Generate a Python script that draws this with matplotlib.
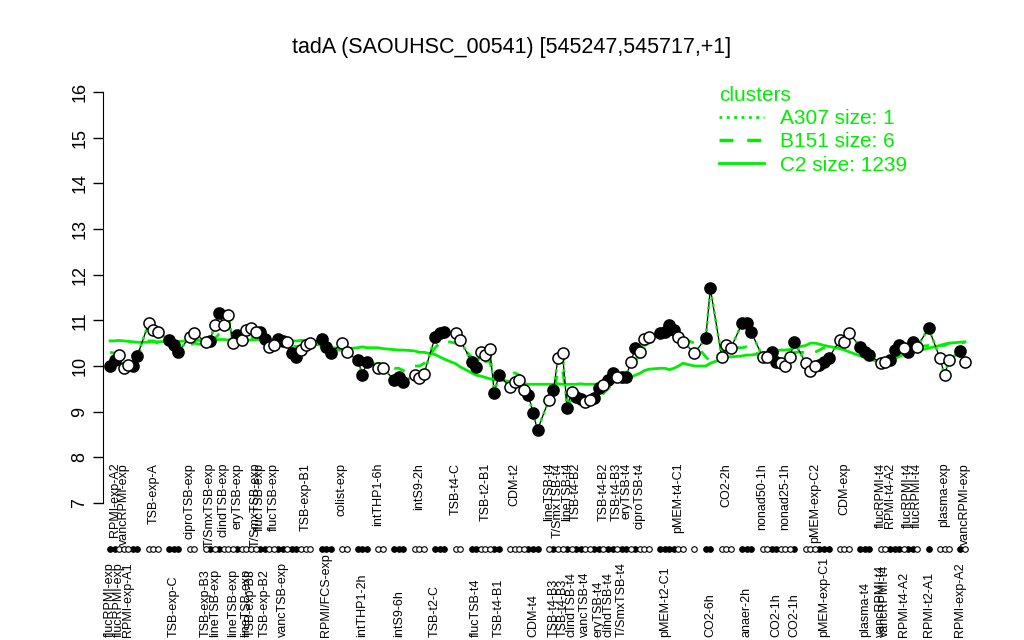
import matplotlib
matplotlib.use("Agg")
import matplotlib.pyplot as plt
from matplotlib.lines import Line2D
import numpy as np

plt.rcParams['font.family'] = ['Liberation Sans', 'DejaVu Sans']

title = "tadA (SAOUHSC_00541) [545247,545717,+1]"

# number of samples in each condition block (left to right)
group_sizes = [7, 3, 3, 2, 24, 3, 2, 3, 2, 3, 3, 3, 2, 7, 7, 23, 6, 1, 2, 3, 3, 8, 6, 3, 3, 9, 1, 3, 2]

# expression values, one per sample
values = [
    10.00, 10.13, 10.24, 9.96, 10.02, 10.00, 10.22,
    10.94, 10.79, 10.74,
    10.57, 10.46, 10.31,
    10.63, 10.72,
    10.53, 10.55, 10.90, 11.16, 10.90, 11.12, 10.50, 10.68, 10.57, 10.79, 10.83, 10.74,
    10.75, 10.60, 10.42, 10.46, 10.60, 10.55, 10.53, 10.28, 10.20, 10.35, 10.46, 10.50,
    10.60, 10.42, 10.28,
    10.50, 10.31,
    10.13, 9.80, 10.09,
    9.96, 9.96,
    9.69, 9.76, 9.65,
    9.80, 9.74, 9.82,
    10.64, 10.72, 10.74,
    10.72, 10.57,
    10.09, 9.98, 10.31, 10.24, 10.37, 9.41, 9.80,
    9.54, 9.65, 9.69, 9.47, 9.37, 8.97, 8.60,
    9.26, 9.47, 10.17, 10.28, 9.08, 9.43, 9.33, 9.28, 9.22, 9.26, 9.30, 9.52,
    9.58, 9.69, 9.84, 9.76, 9.76, 9.76, 10.09, 10.39, 10.31, 10.60, 10.64,
    10.72, 10.74, 10.90, 10.78, 10.64, 10.53,
    10.28,
    10.61, 11.70,
    10.20, 10.46, 10.39,
    10.94, 10.94, 10.74,
    10.20, 10.20, 10.31, 10.09, 10.06, 10.00, 10.20, 10.53,
    10.06, 9.90, 10.00, 10.02, 10.09, 10.17,
    10.57, 10.53, 10.72,
    10.42, 10.31, 10.24,
    10.06, 10.09, 10.13, 10.35, 10.46, 10.40, 10.31, 10.53, 10.42,
    10.83,
    10.17, 9.80, 10.13,
    10.33, 10.09,
]

# 1 = filled point, 0 = open point
filled = [
    1, 1, 0, 0, 0, 1, 1,
    0, 0, 0,
    1, 1, 1,
    0, 0,
    0, 1, 0, 1, 0, 0, 0, 1, 0, 0, 0, 0, 1, 1, 0, 0, 1, 1, 0, 1, 1, 0, 0, 0,
    1, 1, 1,
    0, 0,
    1, 1, 1,
    0, 0,
    1, 1, 1,
    0, 0, 0,
    1, 1, 1,
    0, 0,
    1, 1, 0, 0, 0, 1, 1,
    0, 0, 0, 0, 1, 1, 1,
    0, 1, 0, 0, 1, 0, 1, 1, 0, 0, 1, 1, 0, 1, 1, 0, 1, 1, 0, 1, 0, 0, 0,
    1, 1, 1, 1, 0, 0,
    0,
    1, 1,
    0, 0, 0,
    1, 1, 1,
    0, 0, 1, 1, 0, 0, 0, 1,
    0, 0, 0, 1, 1, 1,
    0, 0, 0,
    1, 1, 1,
    0, 0, 1, 1, 1, 0, 1, 1, 0,
    1,
    0, 0, 0,
    1, 0,
]

# cluster C2 mean profile (solid)
c2_mean = [
    10.55, 10.55, 10.56, 10.55, 10.54, 10.53, 10.52,
    10.52, 10.53, 10.53,
    10.54, 10.55, 10.54,
    10.55, 10.56,
    10.56, 10.57, 10.57, 10.58, 10.58, 10.57, 10.58, 10.57, 10.57, 10.56, 10.57, 10.58,
    10.58, 10.57, 10.56, 10.56, 10.57, 10.57, 10.56, 10.55, 10.55, 10.56, 10.56, 10.55,
    10.50, 10.45, 10.40,
    10.39, 10.38,
    10.40, 10.42, 10.40,
    10.40, 10.38,
    10.36, 10.35, 10.35,
    10.33, 10.30, 10.30,
    10.25, 10.20, 10.15,
    10.05, 9.98,
    9.85, 9.80, 9.78, 9.75, 9.72, 9.70, 9.70,
    9.66, 9.63, 9.62, 9.61, 9.60, 9.60, 9.60,
    9.60, 9.60, 9.61, 9.60, 9.60, 9.60, 9.60, 9.61, 9.60, 9.60, 9.60, 9.61,
    9.62, 9.63, 9.64, 9.66, 9.68, 9.70, 9.75, 9.80, 9.84, 9.90, 9.93,
    9.95, 9.95, 9.92, 9.95, 10.00, 10.06,
    10.00,
    10.00, 10.06,
    10.15, 10.20, 10.20,
    10.22, 10.24, 10.24,
    10.28, 10.30, 10.31, 10.33, 10.35, 10.35, 10.36, 10.40,
    10.45, 10.50, 10.50, 10.48, 10.45, 10.43,
    10.38, 10.35, 10.31,
    10.22, 10.20, 10.15,
    10.08, 10.10, 10.14, 10.17, 10.20, 10.25, 10.28, 10.31, 10.33,
    10.39,
    10.45, 10.48, 10.50,
    10.52, 10.53,
]

# cluster B151 mean profile (dashed)
b151_mean = [
    10.30, 10.28, 10.22, 10.20, 10.22, 10.24, 10.30,
    10.55, 10.55, 10.50,
    10.48, 10.45, 10.42,
    10.45, 10.50,
    10.45, 10.50, 10.60, 10.70, 10.72, 10.72, 10.70, 10.62, 10.58, 10.60, 10.62, 10.62,
    10.60, 10.55, 10.50, 10.50, 10.52, 10.50, 10.48, 10.45, 10.42, 10.45, 10.48, 10.50,
    10.45, 10.40, 10.35,
    10.35, 10.30,
    10.20, 10.00, 10.05,
    10.05, 10.05,
    9.95, 9.95, 9.90,
    10.00, 10.00, 10.05,
    10.40, 10.50, 10.55,
    10.50, 10.45,
    10.20, 10.10, 10.15, 10.10, 10.10, 9.70, 9.75,
    9.80, 9.85, 9.80, 9.60, 9.45, 9.35, 9.25,
    9.20, 9.40, 9.90, 9.90, 9.25, 9.20, 9.20, 9.25, 9.25, 9.30, 9.30, 9.35,
    9.40, 9.50, 9.60, 9.60, 9.65, 9.70, 9.90, 10.10, 10.25, 10.45, 10.50,
    10.60, 10.65, 10.72, 10.70, 10.65, 10.60,
    10.50,
    10.20, 10.10,
    10.30, 10.40, 10.40,
    10.40, 10.42, 10.40,
    10.15, 10.20, 10.25, 10.20, 10.15, 10.15, 10.20, 10.30,
    10.30, 10.30, 10.30, 10.35, 10.40, 10.40,
    10.40, 10.42, 10.42,
    10.35, 10.30, 10.25,
    10.10, 10.12, 10.15, 10.25, 10.30, 10.30, 10.35, 10.40, 10.42,
    10.45,
    10.45, 10.45, 10.50,
    10.50, 10.52,
]

# sample labels: text, block number, sample within block, side of the strip
label_text = [
    "flucRPMI-exp", "RPMI-exp-A2", "flucRPMI-exp", "vancRPMI-exp", "RPMI-exp-A1",
    "TSB-exp-A", "TSB-exp-C", "ciproTSB-exp",
    "TSB-exp-B3", "T/SmxTSB-exp", "lineTSB-exp", "clindTSB-exp", "lineTSB-exp", "eryTSB-exp",
    "lineTSB-exp", "TSB-exp-B3", "T/SmxTSB-exp", "flucTSB-exp", "TSB-exp-B2", "flucTSB-exp",
    "vancTSB-exp", "TSB-exp-B1",
    "RPMI/FCS-exp", "colist-exp", "intTHP1-2h", "intTHP1-6h", "intS9-6h", "intS9-2h",
    "TSB-t2-C", "TSB-t4-C", "flucTSB-t4", "TSB-t2-B1", "TSB-t4-B1", "CDM-t2", "CDM-t4",
    "lineTSB-t4", "TSB-t4-B3", "T/SmxTSB-t4", "TSB-t4-B3", "lineTSB-t4", "clindTSB-t4",
    "TSB-t4-B2", "vancTSB-t4", "eryTSB-t4", "TSB-t4-B2", "clindTSB-t4", "TSB-t4-B3",
    "T/SmxTSB-t4", "eryTSB-t4", "ciproTSB-t4",
    "pMEM-t2-C1", "pMEM-t4-C1", "CO2-6h", "CO2-2h", "anaer-2h",
    "nonad50-1h", "CO2-1h", "nonad25-1h", "CO2-1h", "pMEM-exp-C2", "pMEM-exp-C1",
    "CDM-exp", "plasma-t4",
    "vancRPMI-t4", "flucRPMI-t4", "vancRPMI-t4", "RPMI-t4-A2", "RPMI-t4-A2", "flucRPMI-t4",
    "flucRPMI-t4", "RPMI-t2-A1", "plasma-exp", "RPMI-exp-A2", "vancRPMI-exp",
]
label_group = [
    0, 0, 0, 0, 0,
    1, 2, 3,
    4, 4, 4, 4, 4, 4, 4, 4, 4, 4, 4, 4, 4, 4,
    5, 6, 7, 8, 9, 10,
    11, 12, 13, 13, 13, 14, 14,
    15, 15, 15, 15, 15, 15, 15, 15, 15, 15, 15, 15, 15, 15, 15,
    16, 16, 18, 19, 20,
    21, 21, 21, 21, 22, 22,
    23, 24,
    25, 25, 25, 25, 25, 25, 25, 26, 27, 28, 28,
]
label_slot = [
    0, 1, 2, 3, 4,
    1, 1, 0,
    0, 1, 2, 4, 6, 7, 9, 10, 11, 12, 13, 15, 17, 22,
    1, 0, 1, 0, 1, 1,
    0, 0, 1, 3, 6, 1, 5,
    0, 1, 2, 3, 4, 5, 6, 8, 11, 12, 13, 15, 16, 17, 20,
    1, 4, 1, 1, 1,
    0, 3, 5, 7, 2, 4,
    1, 1,
    0, 0, 1, 2, 5, 6, 8, 0, 1, 0, 1,
]
label_side = [
    "b", "t", "b", "t", "b",
    "t", "b", "t",
    "b", "t", "b", "t", "b", "t", "b", "b", "t", "t", "b", "t", "b", "t",
    "b", "t", "b", "t", "b", "t",
    "b", "t", "b", "t", "b", "t", "b",
    "t", "b", "t", "b", "t", "b", "t", "b", "b", "t", "b", "t", "b", "t", "t",
    "b", "t", "b", "t", "b",
    "t", "b", "t", "b", "t", "b",
    "t", "b",
    "b", "t", "b", "t", "b", "t", "t", "b", "t", "b", "t",
]

green = "#00ee00"
gap = 1.5  # empty space between condition blocks, in sample steps

# x position of every sample: running index plus gaps between blocks
group_id = np.repeat(np.arange(len(group_sizes)), group_sizes)
x = np.arange(len(values)) + gap * group_id
starts = np.concatenate([[0], np.cumsum(group_sizes)[:-1]])
vals = np.array(values)
fill = np.array(filled, dtype=bool)

fig = plt.figure(figsize=(10.24, 6.4), dpi=100)
ax = fig.add_axes([103 / 1024, 137 / 640, 872 / 1024, 411 / 640])

ax.plot(x, c2_mean, '-', color=green, lw=2, zorder=1)
ax.plot(x, b151_mean, '--', color=green, lw=2, dashes=(4, 4), zorder=1)
ax.plot(x, vals, '-', color='black', lw=0.9, zorder=2)
ax.plot(x, vals, ':', color=green, lw=2, zorder=3)
ax.plot(x[fill], vals[fill], 'o', ms=8, mfc='black', mec='black', mew=1.1, zorder=4)
ax.plot(x[~fill], vals[~fill], 'o', ms=8, mfc='white', mec='black', mew=1.1, zorder=4)

# sample strip below the plot
strip_y = 6.0
ax.plot(x[fill], np.full(fill.sum(), strip_y), 'o', ms=4, mfc='black', mec='black',
        mew=0.8, clip_on=False)
ax.plot(x[~fill], np.full((~fill).sum(), strip_y), 'o', ms=4, mfc='white', mec='black',
        mew=0.8, clip_on=False)

for txt, g, s, side in zip(label_text, label_group, label_slot, label_side):
    xi = x[starts[g] + s]
    if side == "t":
        ax.text(xi, 7.88, txt, rotation=90, rotation_mode='anchor', ha='right',
                va='center', fontsize=9, clip_on=False)
    else:
        ax.text(xi, 4.07, txt, rotation=90, rotation_mode='anchor', ha='left',
                va='center', fontsize=9, clip_on=False)

ax.set_xlim(-1.55, x[-1] + 2.2)
ax.set_ylim(7, 16)
ax.set_yticks(range(7, 17))
ax.tick_params(axis='y', labelsize=13, length=7, width=1, labelrotation=90)
for lab in ax.get_yticklabels():
    lab.set_va('center')
ax.set_xticks([])
for side in ['top', 'right', 'bottom']:
    ax.spines[side].set_visible(False)
ax.spines['left'].set_bounds(7, 16)

fig.text(0.5, 0.925, title, ha='center', va='center', fontsize=15.5)

handles = [
    Line2D([], [], color=green, lw=2, ls=':'),
    Line2D([], [], color=green, lw=2.5, ls='--', dashes=(4, 4)),
    Line2D([], [], color=green, lw=2),
]
names = ["A307 size: 1", "B151 size: 6", "C2 size: 1239"]
leg = ax.legend(handles, names, title="clusters", loc='upper left',
                bbox_to_anchor=(0.69, 1.05), frameon=False, fontsize=15,
                title_fontsize=15, labelcolor=green, handlelength=2.15,
                handletextpad=0.75, labelspacing=0.2, borderpad=0.2)
leg.get_title().set_color(green)
leg._legend_box.align = "left"

fig.savefig("out.png", dpi=100)
